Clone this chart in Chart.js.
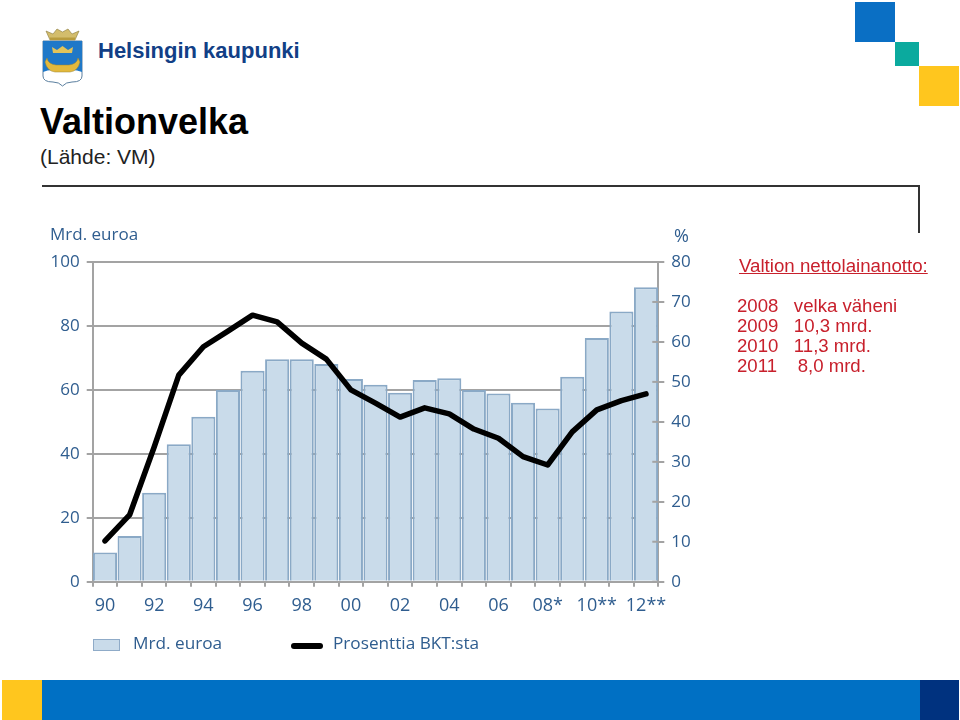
<!DOCTYPE html>
<html>
<head>
<meta charset="utf-8">
<title>Valtionvelka</title>
<script src="https://cdn.jsdelivr.net/npm/chart.js@4"></script>
<style>
  html, body { margin: 0; padding: 0; background: #fff; }
  #page { position: relative; width: 960px; height: 720px; overflow: hidden; font-family: "Liberation Sans", Arial, sans-serif; }
  #page > * { position: absolute; }
  canvas { left: 0; top: 0; }
  .t { white-space: pre; line-height: 1; }
  .axis { font-family: "Open Sans", sans-serif; color: #2f5d8f; }
</style>
</head>
<body>
<div id="page">
  <!-- logo -->
  <svg style="left:42px;top:26px" width="42" height="62" viewBox="0 0 42 62">
    <path d="M1 15 H40 V50 Q40 56 30 56 Q24 56 20.5 60 Q17 56 11 56 Q1 56 1 50 Z" fill="#fff" stroke="#5b7f9f"/>
    <path d="M1 15 H40 V46 Q30 42 20.5 46 Q10 42 1 46 Z" fill="#1f78c8"/>
    <path d="M5 32 Q6 38 14 39 H27 Q35 38 36 32 L38 36 Q36 45 28 46 H13 Q5 45 3 36 Z" fill="#e3b93c" stroke="#9a8432" stroke-width=".5"/>
    <path d="M11 27 L10 21 L15 24 L20.5 20 L26 24 L31 21 L30 27 Z" fill="#e3c45a"/>
    <path d="M8 14 L4 5 L11 8 L15 3 L20.5 6 L26 3 L30 8 L37 5 L33 14 Z" fill="#d3bd6c" stroke="#8a7a3c" stroke-width=".6"/>
    <path d="M8 11.5 H33 V14 H8 Z" fill="#b89c3e"/>
  </svg>
  <div class="t" style="left:98px;top:40px;font-size:22px;font-weight:bold;color:#123f86;">Helsingin kaupunki</div>
  <div class="t" style="left:40px;top:104px;font-size:36px;font-weight:bold;color:#000;">Valtionvelka</div>
  <div class="t" style="left:40px;top:146px;font-size:21px;color:#222;">(Lähde: VM)</div>

  <!-- kulmaneliöt -->
  <div style="left:855px;top:2px;width:40px;height:40px;background:#0a6fc4"></div>
  <div style="left:895px;top:42px;width:24px;height:24px;background:#0baa9e"></div>
  <div style="left:919px;top:66px;width:40px;height:40px;background:#ffc61e"></div>

  <!-- kehys -->
  <div style="left:42px;top:185px;width:878px;height:2px;background:#333"></div>
  <div style="left:918px;top:185px;width:2px;height:48px;background:#333"></div>

  <!-- alapalkki -->
  <div style="left:2px;top:680px;width:40px;height:40px;background:#ffc61e"></div>
  <div style="left:42px;top:680px;width:878px;height:40px;background:#0070c4"></div>
  <div style="left:920px;top:680px;width:39px;height:40px;background:#00327f"></div>

  <canvas id="velkaChart" width="960" height="720"></canvas>

  <div class="t axis" style="left:50px;top:225px;font-size:17px;" id="leftTitle"></div>
  <div class="t axis" style="left:674px;top:226px;font-size:18px;" id="rightTitle"></div>

  <!-- selite -->
  <div style="left:93px;top:639px;width:25px;height:10px;background:#c9dbea;border:1px solid #8fabc8"></div>
  <div class="t axis" style="left:133px;top:634px;font-size:17.2px;" id="legendBar"></div>
  <div style="left:291px;top:643px;width:32px;height:6px;border-radius:3px;background:#000"></div>
  <div class="t axis" style="left:333px;top:634px;font-size:17.2px;" id="legendLine"></div>

  <!-- nettolainanotto -->
  <div class="t" style="left:739px;top:257px;font-size:18.7px;color:#c8202c;text-decoration:underline;">Valtion nettolainanotto:</div>
  <div class="t" id="loans" style="left:737px;top:296px;font-size:18.6px;line-height:20px;color:#c8202c;"></div>
</div>

<script>
  const years = ['90','91','92','93','94','95','96','97','98','99','00','01','02','03','04','05','06','07','08*','09**','10**','11**','12**'];
  const velkaMrd = [9.1, 14.3, 27.8, 43, 51.6, 60, 66, 69.6, 69.6, 68.1, 63.4, 61.6, 59.1, 63.1, 63.6, 60, 58.9, 56, 54.2, 64.1, 76.2, 84.5, 92.1];
  const velkaBkt = [10.2, 16.7, 33.7, 51.7, 58.8, 62.7, 66.7, 65, 59.7, 55.7, 48, 44.7, 41.2, 43.5, 42, 38.2, 35.9, 31.3, 29.2, 37.5, 43, 45.3, 47];
  const leftTicks = [0, 20, 40, 60, 80, 100];
  const rightTicks = [0, 10, 20, 30, 40, 50, 60, 70, 80];
  const seriesNames = ['Mrd. euroa', 'Prosenttia BKT:sta'];
  const loanLines = ['2008   velka väheni', '2009   10,3 mrd.', '2010   11,3 mrd.', '2011    8,0 mrd.'];

  const axisColor = '#a3a3a3';
  const textColor = '#2f5d8f';

  document.getElementById('leftTitle').textContent = seriesNames[0];
  document.getElementById('rightTitle').textContent = '%';
  document.getElementById('legendBar').textContent = seriesNames[0];
  document.getElementById('legendLine').textContent = seriesNames[1];
  document.getElementById('loans').textContent = loanLines.join('\n');

  // Oikean akselin väkäset menevät myös kuva-alan sisäpuolelle
  const innerTicks = {
    id: 'innerTicks',
    afterDatasetsDraw(chart) {
      const y1 = chart.scales.y1;
      const ctx = chart.ctx;
      ctx.save();
      ctx.strokeStyle = axisColor;
      ctx.lineWidth = 2;
      rightTicks.forEach(v => {
        const py = y1.getPixelForValue(v);
        ctx.beginPath();
        ctx.moveTo(y1.left - 6, py);
        ctx.lineTo(y1.left, py);
        ctx.stroke();
      });
      ctx.restore();
    }
  };

  new Chart(document.getElementById('velkaChart').getContext('2d'), {
    type: 'bar',
    data: {
      labels: years,
      datasets: [
        {
          type: 'line',
          label: seriesNames[1],
          data: velkaBkt,
          yAxisID: 'y1',
          borderColor: '#000',
          borderWidth: 5.5,
          borderCapStyle: 'round',
          borderJoinStyle: 'round',
          pointRadius: 0,
          tension: 0,
          fill: false,
          order: 1
        },
        {
          label: seriesNames[0],
          data: velkaMrd,
          yAxisID: 'y',
          backgroundColor: '#c9dbea',
          borderColor: '#8aa9c6',
          borderWidth: 2,
          barPercentage: 0.98,
          categoryPercentage: 1,
          order: 2
        }
      ]
    },
    options: {
      responsive: false,
      animation: false,
      layout: { padding: { left: 40, right: 261.7, top: 262, bottom: 98.3 } },
      plugins: { legend: { display: false }, title: { display: false }, tooltip: { enabled: false } },
      scales: {
        x: {
          offset: true,
          afterFit: s => { s.height = 40; },
          grid: { offset: true, drawOnChartArea: false, color: axisColor, lineWidth: 2, tickLength: 5 },
          border: { color: axisColor, width: 2 },
          ticks: {
            autoSkip: false,
            maxRotation: 0,
            padding: 8,
            color: textColor,
            font: { family: 'Open Sans', size: 18 },
            callback: (v, i) => (i % 2 === 0 ? years[i] : '')
          }
        },
        y: {
          position: 'left',
          min: 0,
          max: 100,
          afterFit: s => { s.width = 52.7; },
          afterBuildTicks: s => { s.ticks = leftTicks.map(v => ({ value: v })); },
          grid: { color: axisColor, lineWidth: 2, tickLength: 6 },
          border: { color: axisColor, width: 2 },
          ticks: { padding: 7, color: textColor, font: { family: 'Open Sans', size: 17 } }
        },
        y1: {
          position: 'right',
          min: 0,
          max: 80,
          afterFit: s => { s.width = 40; },
          afterBuildTicks: s => { s.ticks = rightTicks.map(v => ({ value: v })); },
          grid: { drawOnChartArea: false, color: axisColor, lineWidth: 2, tickLength: 6 },
          border: { color: axisColor, width: 2 },
          ticks: { padding: 7, color: textColor, font: { family: 'Open Sans', size: 17 } }
        }
      }
    },
    plugins: [innerTicks]
  });
</script>
</body>
</html>
